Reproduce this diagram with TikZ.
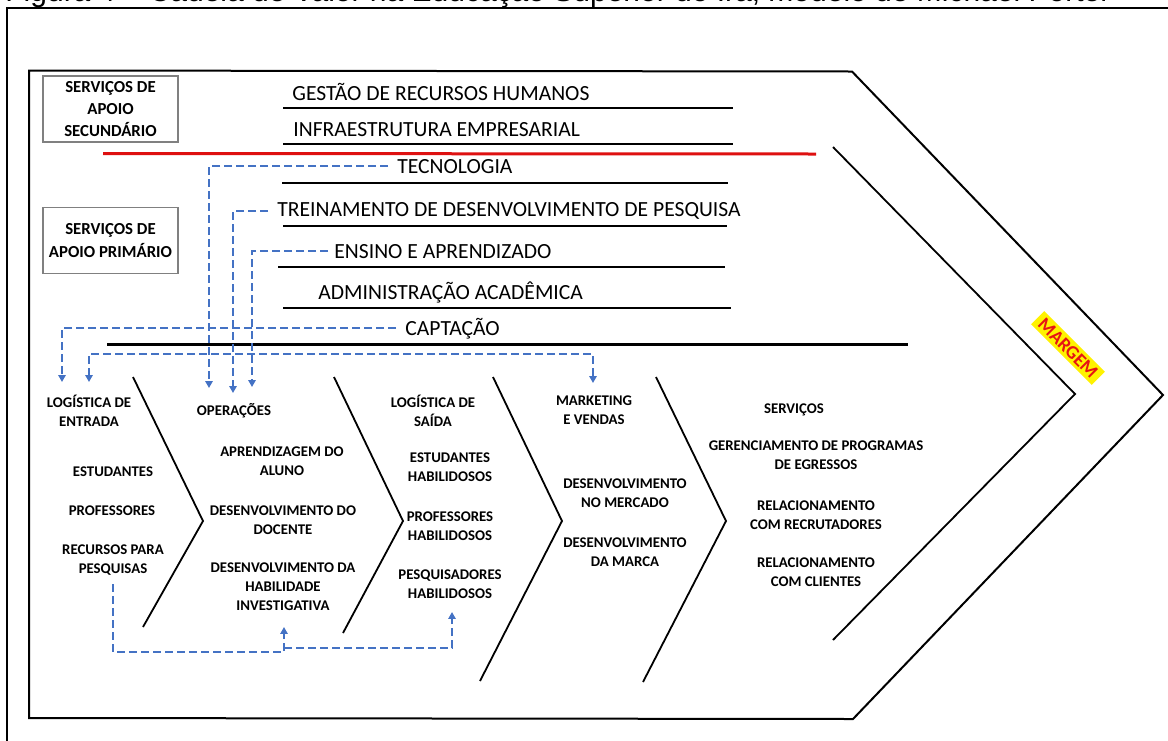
\documentclass[tikz,border=0pt]{standalone}
\usepackage{fontspec}
\setmainfont{Carlito}
\newfontfamily\captionfamily{Liberation Sans}
\usetikzlibrary{arrows.meta}
\definecolor{linkblue}{RGB}{68,114,196}
\definecolor{redline}{RGB}{222,16,16}
\definecolor{margemred}{RGB}{230,20,20}
\definecolor{boxgray}{RGB}{128,128,128}
\begin{document}
\begin{tikzpicture}[x=0.5pt,y=-0.5pt,
  rowlabel/.style={anchor=base west,inner sep=0pt,font=\fontsize{10.8}{13}\selectfont},
  activity/.style={align=center,inner sep=0pt,font=\bfseries\fontsize{7.4}{9.5}\selectfont},
  groupbox/.style={draw=boxgray,line width=0.6pt,minimum width=67.5pt,minimum height=33pt,inner sep=0pt,align=center,font=\bfseries\fontsize{8.4}{11}\selectfont},
  rowline/.style={line width=1pt},
  chevron/.style={line width=0.9pt,line join=miter},
  link/.style={draw=linkblue,line width=1.1pt,dash pattern=on 4pt off 2pt,-{Triangle[width=3.6pt,length=3.4pt]}},
]
\useasboundingbox (0,0) rectangle (1168,740);

\begin{scope}
  \clip (0,0) rectangle (1168,740);
  % figure caption, running off the top edge
  \node[anchor=base west,inner sep=0pt,font=\captionfamily\fontsize{15}{18}\selectfont] (caption) at (5,1)
    {Figura 4 – Cadeia de Valor na Educação Superior do Irã, modelo de Michael Porter};
  % outer frame
  \draw[line width=1.35pt] (7,8) rectangle (1190,760);
\end{scope}

% value chain outline
\draw[line width=1pt,line join=miter] (29,70.5) -- (852,71.5) -- (1163,395) -- (853,719) -- (29,718) -- cycle;
% margin chevron
\draw[chevron] (833,147) -- (1075,394) -- (833,640);

% group boxes
\node[groupbox] (sec) at (110.5,109) {SERVIÇOS DE\\APOIO\\SECUNDÁRIO};
\node[groupbox,font=\bfseries\fontsize{8.4}{11.8}\selectfont] (prim) at (110.5,240.5) {SERVIÇOS DE\\APOIO PRIMÁRIO};

% support activities
\node[rowlabel] (rh)   at (292,100)   {GESTÃO DE RECURSOS HUMANOS};
\node[rowlabel] (infra) at (293,136.7) {INFRAESTRUTURA EMPRESARIAL};
\node[rowlabel] (tec)  at (397,173)   {TECNOLOGIA};
\node[rowlabel] (trein) at (277,216.7) {TREINAMENTO DE DESENVOLVIMENTO DE PESQUISA};
\node[rowlabel] (ens)  at (334,258)   {ENSINO E APRENDIZADO};
\node[rowlabel] (adm)  at (318,299)   {ADMINISTRAÇÃO ACADÊMICA};
\node[rowlabel] (capt) at (405,335)   {CAPTAÇÃO};

\draw[rowline] (283,108) -- (733,108);
\draw[rowline] (283,144) -- (733,144);
\draw[line width=1.5pt,redline] (103,153.5) -- (816,154);
\draw[rowline] (282,183) -- (728,183);
\draw[rowline] (283,226) -- (727,226);
\draw[rowline] (278,267) -- (725,267);
\draw[rowline] (283,308) -- (731,308);
\draw[line width=1.5pt] (107,344) -- (908,344);

% primary activity chevrons
\draw[chevron] (133,377) -- (203,521) -- (143,627);
\draw[chevron] (334,377) -- (403,521) -- (343,633);
\draw[chevron] (493,377) -- (562,521) -- (480,681);
\draw[chevron] (656,377) -- (726,521) -- (643,682);

% primary activities
\node[activity] (login) at (89,410.5) {LOGÍSTICA DE\\ENTRADA};
\node[activity] (est)   at (113,472) {ESTUDANTES};
\node[activity] (prof)  at (112,511) {PROFESSORES};
\node[activity] (res)   at (113,560.5) {RECURSOS PARA\\PESQUISAS};

\node[activity] (oper)  at (234,411) {OPERAÇÕES};
\node[activity] (apr)   at (282,461.5) {APRENDIZAGEM DO\\ALUNO};
\node[activity] (doc)   at (283,520) {DESENVOLVIMENTO DO\\DOCENTE};
\node[activity] (inv)   at (283,587) {DESENVOLVIMENTO DA\\HABILIDADE\\INVESTIGATIVA};

\node[activity] (logout) at (433,410.5) {LOGÍSTICA DE\\SAÍDA};
\node[activity] (esth)  at (450,467.5) {ESTUDANTES\\HABILIDOSOS};
\node[activity] (profh) at (450,526.5) {PROFESSORES\\HABILIDOSOS};
\node[activity] (pesqh) at (450,584.5) {PESQUISADORES\\HABILIDOSOS};

\node[activity] (mkt)   at (594,410.5) {MARKETING\\E VENDAS};
\node[activity] (merc)  at (625,493.5) {DESENVOLVIMENTO\\NO MERCADO};
\node[activity] (marca) at (625,552.5) {DESENVOLVIMENTO\\DA MARCA};

\node[activity] (serv)  at (794,410) {SERVIÇOS};
\node[activity] (egr)   at (816,455.5) {GERENCIAMENTO DE PROGRAMAS\\DE EGRESSOS};
\node[activity] (recr)  at (816,515.5) {RELACIONAMENTO\\COM RECRUTADORES};
\node[activity] (cli)   at (816,572.5) {RELACIONAMENTO\\COM CLIENTES};

% margin label
\node[fill=yellow,text=margemred,rotate=-45,inner xsep=2.5pt,inner ysep=1.5pt,font=\bfseries\fontsize{9.4}{11}\selectfont] (margem) at (1068,348) {MARGEM};

% arrow targets
\coordinate (inCapt) at (62,382);
\coordinate (inLog)  at (89,382);
\coordinate (inTec)  at (209,388);
\coordinate (inTrein) at (233,393);
\coordinate (inEns)  at (252,387);
\coordinate (inMkt)  at (593,383);
\coordinate (inInv)  at (284,627);
\coordinate (split)  at (284,648);
\coordinate (inPesq) at (452,612);

% links
\draw[link] ([xshift=-4.5pt]tec.west) -| (inTec);
\draw[link] ([xshift=-4.5pt]trein.west) -| (inTrein);
\draw[link] ([xshift=-3pt]ens.west) -| (inEns);
\draw[link] ([xshift=-4.5pt]capt.west) -| (inCapt);
\draw[link,{Triangle[width=3.6pt,length=3.4pt]}-{Triangle[width=3.6pt,length=3.4pt]}] (inLog) -- ++(0,-28) -| (inMkt);
\draw[link] ([yshift=-4pt]res.south) -- ++(0,68) -| (inInv);
\draw[link] (split) -| (inPesq);

\end{tikzpicture}
\end{document}
